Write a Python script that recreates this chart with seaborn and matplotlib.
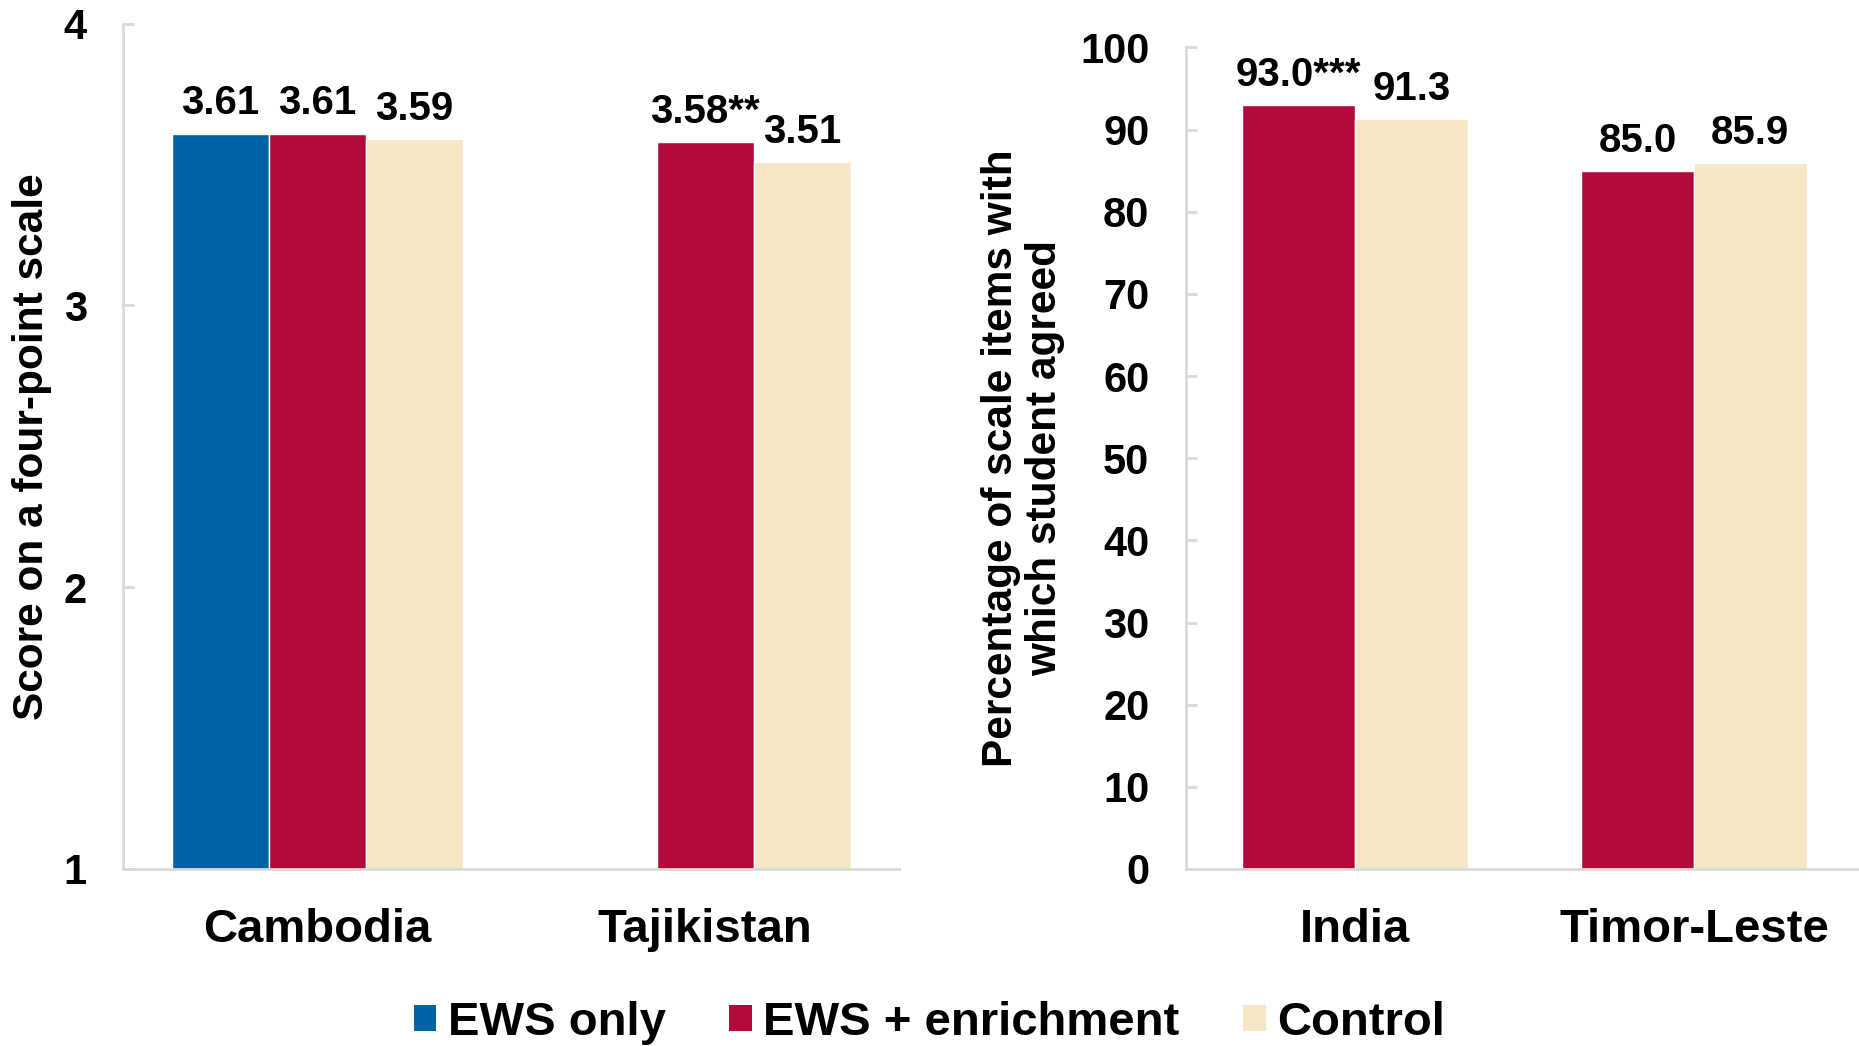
import matplotlib
matplotlib.use("Agg")
import matplotlib.pyplot as plt
from matplotlib.patches import Patch
import seaborn as sns
import pandas as pd

sns.set_theme(style="white")
plt.rcParams["font.family"] = ["Liberation Sans", "DejaVu Sans"]
plt.rcParams["font.weight"] = "bold"
plt.rcParams["text.color"] = "black"
plt.rcParams["axes.labelcolor"] = "black"
plt.rcParams["xtick.labelcolor"] = "black"
plt.rcParams["ytick.labelcolor"] = "black"

# ---- data ----
groups = ["EWS only", "EWS + enrichment", "Control"]
colors = ["#0063A6", "#B20A3A", "#F5E6C6"]

left_countries = ["Cambodia", "Tajikistan"]
left_ews_only = [3.61, None]
left_ews_enrich = [3.61, 3.58]
left_control = [3.59, 3.51]
left_stars_enrich = ["", "**"]

right_countries = ["India", "Timor-Leste"]
right_ews_enrich = [93.0, 85.0]
right_control = [91.3, 85.9]
right_stars_enrich = ["***", ""]

left_ticks = [1, 2, 3, 4]
right_ticks = list(range(0, 101, 10))


def long_table(countries, series):
    rows = []
    for grp, vals in series.items():
        for c, v in zip(countries, vals):
            if v is not None:
                rows.append({"country": c, "group": grp, "value": v})
    return pd.DataFrame(rows)


left_df = long_table(left_countries, {groups[0]: left_ews_only,
                                      groups[1]: left_ews_enrich,
                                      groups[2]: left_control})
right_df = long_table(right_countries, {groups[1]: right_ews_enrich,
                                        groups[2]: right_control})

W, H = 1859, 1046
fig = plt.figure(figsize=(W / 100, H / 100), dpi=100)
base = 869
axL = fig.add_axes([123 / W, (H - base) / H, 776 / W, (base - 23.7) / H])
axR = fig.add_axes([1185.5 / W, (H - base) / H, 678 / W, (base - 47.4) / H])

grey = "#D9D9D9"
tick_fs, val_fs, cat_fs, lab_fs = 30, 29, 34, 30.5

sns.barplot(data=left_df, x="country", y="value", hue="group",
            order=left_countries, hue_order=groups, palette=colors,
            saturation=1, width=0.75, ax=axL, legend=False, errorbar=None)
sns.barplot(data=right_df, x="country", y="value", hue="group",
            order=right_countries, hue_order=groups[1:], palette=colors[1:],
            saturation=1, width=0.665, ax=axR, legend=False, errorbar=None)

# value labels
lab_kw = dict(padding=8, fontsize=val_fs, fontweight="bold", color="black")
axL.bar_label(axL.containers[0],
              labels=[f"{v:.2f}" for v in left_ews_only if v is not None], **lab_kw)
axL.bar_label(axL.containers[1],
              labels=[f"{v:.2f}{s}" for v, s in zip(left_ews_enrich, left_stars_enrich)],
              **lab_kw)
axL.bar_label(axL.containers[2], labels=[f"{v:.2f}" for v in left_control], **lab_kw)
axR.bar_label(axR.containers[0],
              labels=[f"{v:.1f}{s}" for v, s in zip(right_ews_enrich, right_stars_enrich)],
              **lab_kw)
axR.bar_label(axR.containers[1], labels=[f"{v:.1f}" for v in right_control], **lab_kw)

for ax, ticks, lims in [(axL, left_ticks, (1, 4)), (axR, right_ticks, (0, 100))]:
    ax.set_ylim(*lims)
    ax.set_xlim(-0.5, 1.5)
    ax.set_yticks(ticks)
    ax.set_yticklabels([str(t) for t in ticks])
    ax.set_xlabel("")
    for side in ["top", "right"]:
        ax.spines[side].set_visible(False)
    for side in ["left", "bottom"]:
        ax.spines[side].set_color(grey)
        ax.spines[side].set_linewidth(2)
    ax.tick_params(axis="y", direction="in", length=8, width=2, color=grey,
                   pad=26, labelsize=tick_fs, left=True, labelcolor="black")
    ax.tick_params(axis="x", length=0, pad=28, labelsize=cat_fs, labelcolor="black")
    for lbl in ax.get_xticklabels() + ax.get_yticklabels():
        lbl.set_fontweight("bold")
    ax.set_facecolor("white")

axL.set_ylabel("Score on a four-point scale", fontsize=lab_fs, fontweight="bold",
               color="black")
axL.yaxis.set_label_coords((32 - 123) / 776, 0.5)
axL.yaxis.label.set_va("center")

axR.set_ylabel("Percentage of scale items with\nwhich student agreed",
               fontsize=lab_fs, fontweight="bold", multialignment="center",
               linespacing=1.15, color="black")
axR.yaxis.set_label_coords((1023 - 1185.5) / 678, 0.5)
axR.yaxis.label.set_va("center")

handles = [Patch(facecolor=c, edgecolor="none") for c in colors]
fig.legend(handles, groups, loc="center", bbox_to_anchor=(0.5, 1 - 1023 / H),
           ncol=3, frameon=False, prop={"size": 34, "weight": "bold"},
           labelcolor="black",
           handlelength=0.47, handleheight=0.47, handletextpad=0.25,
           columnspacing=1.35, borderaxespad=0)

fig.savefig("out.png", dpi=100, facecolor="white")
